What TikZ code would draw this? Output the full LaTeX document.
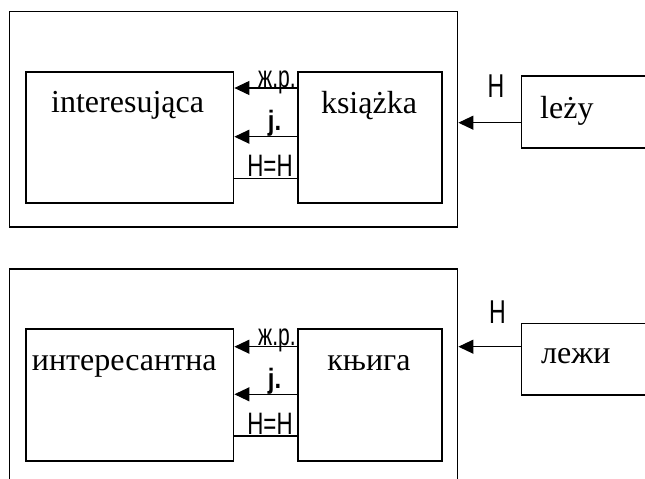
\documentclass[tikz,border=0pt]{standalone}
\usepackage{fontspec}
\usepackage{graphicx}
\setmainfont{Liberation Serif}
\newfontfamily\lblfont{Liberation Sans}
\usetikzlibrary{arrows.meta}
\tikzset{
  box/.style={draw, line width=1.7pt, inner sep=0pt, anchor=north west, fill=white},
  word/.style={font=\fontsize{32}{36}\selectfont, inner sep=0pt, anchor=base},
  arr/.style={line width=1.1pt, -{Triangle[length=15pt,width=14pt]}},
  conn/.style={line width=1.1pt},
  lbl/.style={inner sep=0pt, anchor=base},
}
\newcommand{\narrow}[3]{\scalebox{#1}[1]{\lblfont\fontsize{#2}{#2}\selectfont #3}}
\begin{document}
\begin{tikzpicture}[x=1pt,y=-1pt]
\clip (0,0) rectangle (645,479);
\useasboundingbox (0,0) rectangle (645,479);
% ---------- top panel ----------
\node[box, minimum width=448pt, minimum height=215.3pt] (outA) at (8.7,10.7) {};
\node[box, minimum width=207.7pt, minimum height=131.3pt] (inA) at (25,71) {};
\node[box, minimum width=144pt, minimum height=131.3pt] (ksA) at (297,71) {};
\node[box, minimum width=140pt, minimum height=72pt] (lyA) at (520.7,75) {};
\node[word] (tInA) at (127.6,112) {interesująca};
\node[word] (tKsA) at (369,113) {książka};
\node[word, anchor=base west] (tLyA) at (540,118) {leży};
\draw[arr] ([yshift=-17pt]ksA.north west) -- ([yshift=-17pt]inA.north east);
\draw[arr] ([yshift=-65.7pt]ksA.north west) -- ([yshift=-65.7pt]inA.north east);
\draw[conn] ([yshift=-107.3pt]ksA.north west) -- ([yshift=-107.3pt]inA.north east);
\draw[arr] ([yshift=-47.7pt]lyA.north west) -- ([yshift=-47.7pt]lyA.north west -| outA.east);
\node[lbl] (gA) at (277,87) {\narrow{0.68}{31}{ж.р.}};
\node[lbl] (nA) at (274.5,130) {\narrow{0.85}{28}{\bfseries j.}};
\node[lbl] (eA) at (270,176.5) {\narrow{0.72}{31}{H=H}};
\node[lbl] (hA) at (496,97) {\narrow{0.7}{33}{H}};
% ---------- bottom panel ----------
\node[box, minimum width=448pt, minimum height=230pt] (outB) at (8.7,268.3) {};
\node[box, minimum width=207.7pt, minimum height=131.7pt] (inB) at (25,328.3) {};
\node[box, minimum width=144pt, minimum height=131.7pt] (ksB) at (297,328.3) {};
\node[box, minimum width=140pt, minimum height=71.3pt] (lyB) at (520.7,322.7) {};
\node[word] (tInB) at (124.3,370) {интересантна};
\node[word] (tKsB) at (369,370) {књига};
\node[word, anchor=base west] (tLyB) at (541,363) {лежи};
\draw[arr] ([yshift=-18.4pt]ksB.north west) -- ([yshift=-18.4pt]inB.north east);
\draw[arr] ([yshift=-66pt]ksB.north west) -- ([yshift=-66pt]inB.north east);
\draw[conn] ([yshift=-107.7pt]ksB.north west) -- ([yshift=-107.7pt]inB.north east);
\draw[arr] ([yshift=-24pt]lyB.north west) -- ([yshift=-24pt]lyB.north west -| outB.east);
\node[lbl] (gB) at (277,345) {\narrow{0.68}{31}{ж.р.}};
\node[lbl] (nB) at (274.5,388) {\narrow{0.85}{28}{\bfseries j.}};
\node[lbl] (eB) at (270,434.5) {\narrow{0.72}{31}{H=H}};
\node[lbl] (hB) at (497.5,323) {\narrow{0.7}{33}{H}};
\end{tikzpicture}
\end{document}
